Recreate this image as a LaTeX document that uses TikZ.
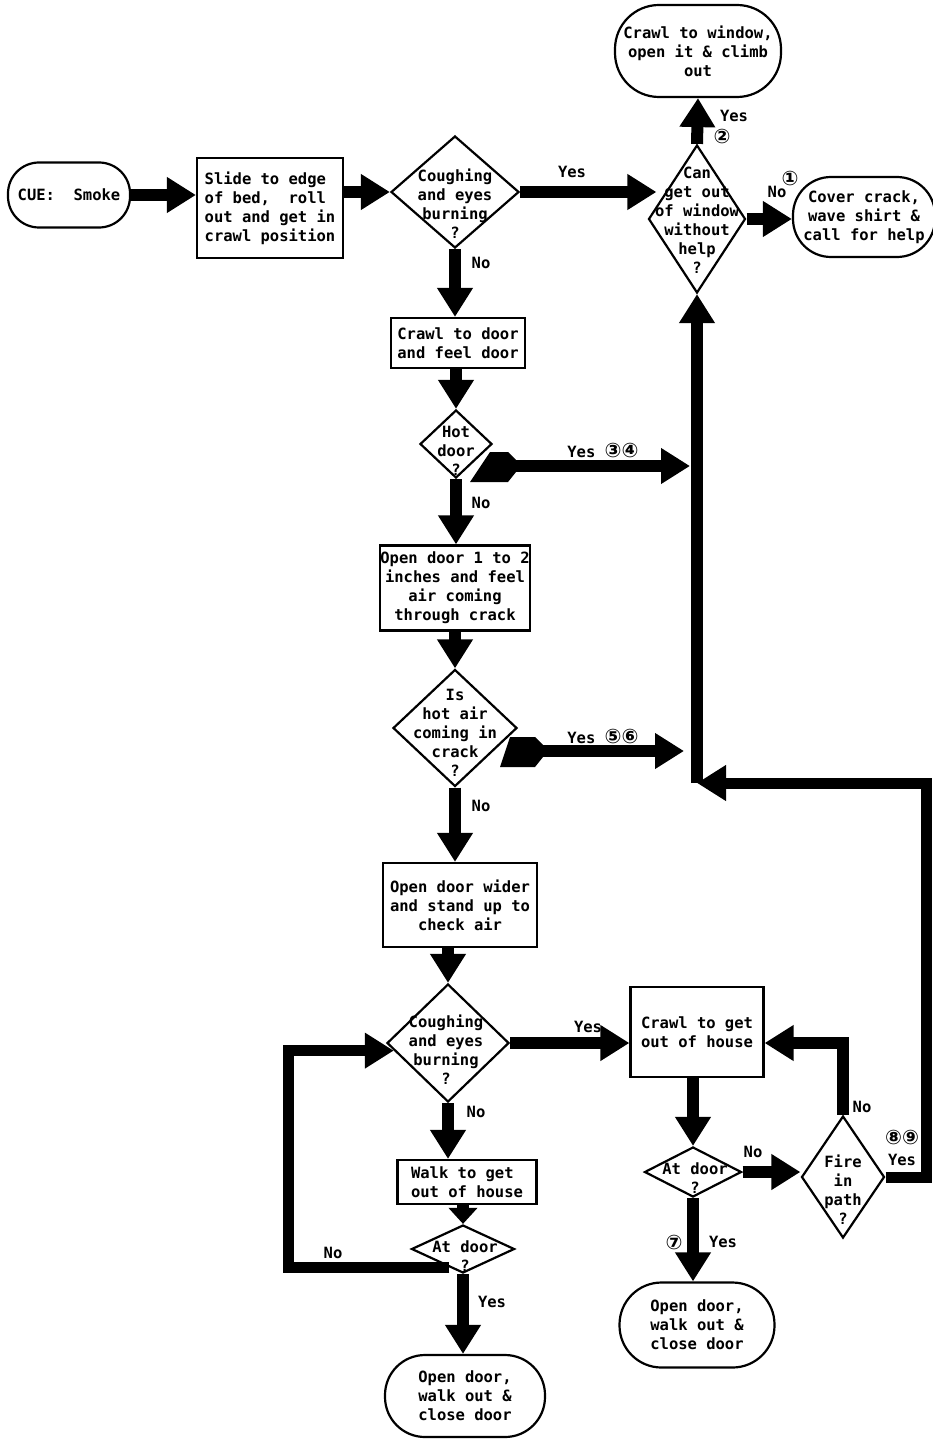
\documentclass[tikz,border=0pt]{standalone}
\usepackage{fontspec}
\setmainfont{DejaVu Sans Mono}
\newfontfamily\circf{DejaVu Sans}
\usetikzlibrary{shapes.geometric,arrows.meta,calc}
\newcommand{\circd}[1]{{\circf\fontsize{20}{20}\selectfont #1}}
\begin{document}
\begin{tikzpicture}[x=1pt,y=-1pt,
  txt/.style={font=\fontsize{15.5}{19}\selectfont\bfseries, inner sep=0pt, align=center},
  box/.style={txt, draw, line width=2.2pt, rectangle},
  term/.style={txt, draw, line width=2.2pt, rectangle},
  dia/.style={draw, line width=2.2pt, diamond, inner sep=0pt},
  arr/.style={line width=12pt, -{Triangle[width=34pt,length=29pt]}},
  shortarr/.style={line width=12pt, -{Triangle[width=28pt,length=16pt]}},
  loopline/.style={line width=11pt, -{Triangle[width=34pt,length=29pt]}},
  lbl/.style={font=\fontsize{15.5}{19}\selectfont\bfseries, inner sep=0pt},
  tailblob/.style={fill=black},
]
\useasboundingbox (0,0) rectangle (932,1439);

% ---- nodes ----
\node[term, minimum width=122pt, minimum height=65pt, rounded corners=31pt] (cue) at (69,195) {CUE:\ \ Smoke};
\node[box, minimum width=146pt, minimum height=100pt, align=left] (slide) at (270,208) {Slide to edge\\of bed,\ \ roll\\out and get in\\crawl position};

\node[dia, minimum width=128pt, minimum height=112pt] (d1) at (455,192) {};
\node[txt] (d1t) at (455,204) {Coughing\\and eyes\\burning\\?};

\node[dia, minimum width=97pt, minimum height=148pt] (win) at (697,219) {};
\node[txt] (wint) at (697,220) {Can\\get out\\of window\\without\\help\\?};

\node[term, minimum width=166pt, minimum height=92pt, rounded corners=44pt] (top) at (698,51) {Crawl to window,\\open it \& climb\\out};
\node[term, minimum width=142pt, minimum height=80pt, rounded corners=38pt] (help) at (864,217) {Cover crack,\\wave shirt \&\\call for help};

\node[box, minimum width=134pt, minimum height=50pt] (cd) at (458,343) {Crawl to door\\and feel door};

\node[dia, minimum width=72pt, minimum height=68pt] (hot) at (456,444) {};
\node[txt] (hott) at (456,451) {Hot\\door\\?};

\node[box, minimum width=145pt, minimum height=85pt] (o1) at (455,588) {Open door 1 to 2\\inches and feel\\air coming\\through crack};

\node[dia, minimum width=124pt, minimum height=117pt] (haa) at (455,728) {};
\node[txt] (haat) at (455,733) {Is\\hot air\\coming in\\crack\\?};

\node[box, minimum width=154pt, minimum height=84pt] (wd) at (460,905) {Open door wider\\and stand up to\\check air};

\node[dia, minimum width=122pt, minimum height=118pt] (d2) at (448,1043) {};
\node[txt] (d2t) at (446,1050) {Coughing\\and eyes\\burning\\?};

\node[box, minimum width=139pt, minimum height=44pt, align=left] (wk) at (467,1182) {Walk to get\\out of house};

\node[dia, minimum width=103pt, minimum height=48pt] (ad1) at (463,1249) {};
\node[txt] (ad1t) at (465,1256) {At door\\?};

\node[term, minimum width=160pt, minimum height=82pt, rounded corners=40pt, align=left] (out1) at (465,1396) {Open door,\\walk out \&\\close door};

\node[box, minimum width=133pt, minimum height=90pt, align=left] (ch) at (697,1032) {Crawl to get\\out of house};

\node[dia, minimum width=97pt, minimum height=50pt] (ad2) at (693,1172) {};
\node[txt] (ad2t) at (695,1178) {At door\\?};

\node[dia, minimum width=83pt, minimum height=122pt] (fire) at (843,1177) {};
\node[txt] (firet) at (843,1190) {Fire\\in\\path\\?};

\node[term, minimum width=155pt, minimum height=85pt, rounded corners=42pt, align=left] (out2) at (697,1325) {Open door,\\walk out \&\\close door};

% ---- coordinates ----
\coordinate (hy) at (690,466);
\coordinate (hay) at (684,751);
\coordinate (lp) at (288,1150);
\coordinate (fn) at (843,1043);
\coordinate (j) at (697,783);
\coordinate (rc) at (926,1000);

% ---- connectors ----
\draw[arr] (cue.east) -- (cue.east -| slide.west);
\draw[arr] (d1.west -| slide.east) -- (d1.west);
\draw[arr] (d1.east) -- ($(d1.east -| win.west)+(9,0)$);
\draw[arr] (win.north) -- (top.south);
\draw[arr] (win.east) -- (win.east -| help.west);
\draw[arr] (d1.south) -- (d1.south |- cd.north);
\draw[arr] (cd.south -| hot.north) -- (hot.north);
\fill[tailblob] (470,482) -- (490,452) -- (508,452) -- (516,460) -- (516,472) -- (508,482) -- cycle;
\draw[arr] (hot.east |- hy) -- (hy);
\draw[arr] (hot.south) -- (hot.south |- o1.north);
\draw[arr] (o1.south -| haa.north) -- (haa.north);
\fill[tailblob] (500,767) -- (510,737) -- (535,737) -- (543,745) -- (543,757) -- (535,767) -- cycle;
\draw[arr] (haa.east |- hay) -- (hay);
\draw[arr] (haa.south) -- (haa.south |- wd.north);
\draw[arr] (wd.south -| d2.north) -- (d2.north);
\draw[arr] (d2.south) -- (d2.south |- wk.north);
\draw[shortarr] (wk.south -| ad1.north) -- (ad1.north);
\draw[arr] (ad1.south) -- (ad1.south |- out1.north);
\draw[loopline] (ad1.234) -- (ad1.234 -| lp) |- (d2.188);
\draw[arr] (d2.east) -- (d2.east -| ch.west);
\draw[arr] (ch.south -| ad2.north) -- (ad2.north);
\draw[arr] (ad2.east) -- (ad2.east -| fire.west);
\draw[arr] (fire.north) -- (fire.north |- fn) -- (fn -| ch.east);
\draw[arr] (ad2.south) -- (ad2.south |- out2.north);
\draw[loopline] (fire.east) -| (rc |- j) -- (j);
\draw[arr] (win.south |- j) -- (win.south);

% ---- labels ----
\node[lbl] (l1) at (572,172) {Yes};
\node[lbl] (l2) at (481,263) {No};
\node[lbl] (l3) at (734,116) {Yes};
\node[lbl] (l4) at (722,136) {\circd{②}};
\node[lbl] (l5) at (790,178) {\circd{①}};
\node[lbl] (l6) at (777,192) {No};
\node[lbl] (l7) at (603,450) {Yes \circd{③④}};
\node[lbl] (l8) at (481,503) {No};
\node[lbl] (l9) at (603,736) {Yes \circd{⑤⑥}};
\node[lbl] (l10) at (481,806) {No};
\node[lbl] (l11) at (476,1112) {No};
\node[lbl] (l12) at (588,1027) {Yes};
\node[lbl] (l13) at (333,1253) {No};
\node[lbl] (l14) at (492,1302) {Yes};
\node[lbl] (l15) at (753,1152) {No};
\node[lbl] (l16) at (862,1107) {No};
\node[lbl] (l17) at (902,1137) {\circd{⑧⑨}};
\node[lbl] (l18) at (902,1160) {Yes};
\node[lbl] (l19) at (674,1242) {\circd{⑦}};
\node[lbl] (l20) at (723,1242) {Yes};
\end{tikzpicture}
\end{document}
